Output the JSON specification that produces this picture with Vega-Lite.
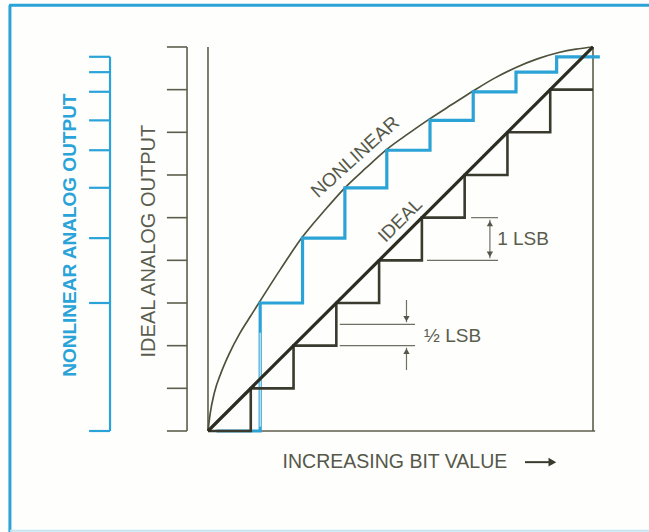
{
  "$schema": "https://vega.github.io/schema/vega-lite/v6.json",
  "width": 649,
  "height": 532,
  "autosize": "none",
  "padding": 0,
  "background": "#fefefc",
  "config": {"view": {"stroke": null}, "text": {"font": "Liberation Sans"}},
  "datasets": {
    "frame": [
      {"x": -4.65, "y": 9.98, "x2": 10.31, "y2": 9.98},
      {"x": -4.63, "y": 9.98, "x2": -4.63, "y2": -2.37}
    ],
    "frameb": [
      {"x": -4.63, "y": -2.34, "x2": 10.31, "y2": -2.34}
    ],
    "axes": [
      {"x": 0, "y": 0, "x2": 0, "y2": 9},
      {"x": 0, "y": 0, "x2": 9.05, "y2": 0},
      {"x": 9, "y": 0, "x2": 9, "y2": 9},
      {"x": -0.49, "y": 0, "x2": -0.49, "y2": 9},
      {"x": -0.96, "y": 0, "x2": -0.49, "y2": 0},
      {"x": -0.96, "y": 1, "x2": -0.49, "y2": 1},
      {"x": -0.96, "y": 2, "x2": -0.49, "y2": 2},
      {"x": -0.96, "y": 3, "x2": -0.49, "y2": 3},
      {"x": -0.96, "y": 4, "x2": -0.49, "y2": 4},
      {"x": -0.96, "y": 5, "x2": -0.49, "y2": 5},
      {"x": -0.96, "y": 6, "x2": -0.49, "y2": 6},
      {"x": -0.96, "y": 7, "x2": -0.49, "y2": 7},
      {"x": -0.96, "y": 8, "x2": -0.49, "y2": 8},
      {"x": -0.96, "y": 9, "x2": -0.49, "y2": 9}
    ],
    "blueaxis": [
      {"x": -2.29, "y": 0, "x2": -2.29, "y2": 8.77},
      {"x": -2.78, "y": 0, "x2": -2.29, "y2": 0},
      {"x": -2.78, "y": 3.0, "x2": -2.29, "y2": 3.0},
      {"x": -2.78, "y": 4.52, "x2": -2.29, "y2": 4.52},
      {"x": -2.78, "y": 5.7, "x2": -2.29, "y2": 5.7},
      {"x": -2.78, "y": 6.58, "x2": -2.29, "y2": 6.58},
      {"x": -2.78, "y": 7.28, "x2": -2.29, "y2": 7.28},
      {"x": -2.78, "y": 7.95, "x2": -2.29, "y2": 7.95},
      {"x": -2.78, "y": 8.41, "x2": -2.29, "y2": 8.41},
      {"x": -2.78, "y": 8.77, "x2": -2.29, "y2": 8.77}
    ],
    "ideal": [
      {"i": 0, "x": 0, "y": 0}, {"i": 1, "x": 1, "y": 0}, {"i": 2, "x": 1, "y": 1},
      {"i": 3, "x": 2, "y": 1}, {"i": 4, "x": 2, "y": 2}, {"i": 5, "x": 3, "y": 2},
      {"i": 6, "x": 3, "y": 3}, {"i": 7, "x": 4, "y": 3}, {"i": 8, "x": 4, "y": 4},
      {"i": 9, "x": 5, "y": 4}, {"i": 10, "x": 5, "y": 5}, {"i": 11, "x": 6, "y": 5},
      {"i": 12, "x": 6, "y": 6}, {"i": 13, "x": 7, "y": 6}, {"i": 14, "x": 7, "y": 7},
      {"i": 15, "x": 8, "y": 7}, {"i": 16, "x": 8, "y": 8}, {"i": 17, "x": 9, "y": 8}
    ],
    "blue": [
      {"i": 0, "x": 0.2, "y": 0}, {"i": 1, "x": 1.22, "y": 0}, {"i": 2, "x": 1.22, "y": 3.0},
      {"i": 3, "x": 2.21, "y": 3.0}, {"i": 4, "x": 2.21, "y": 4.52}, {"i": 5, "x": 3.2, "y": 4.52},
      {"i": 6, "x": 3.2, "y": 5.7}, {"i": 7, "x": 4.18, "y": 5.7}, {"i": 8, "x": 4.18, "y": 6.58},
      {"i": 9, "x": 5.19, "y": 6.58}, {"i": 10, "x": 5.19, "y": 7.28}, {"i": 11, "x": 6.2, "y": 7.28},
      {"i": 12, "x": 6.2, "y": 7.95}, {"i": 13, "x": 7.2, "y": 7.95}, {"i": 14, "x": 7.2, "y": 8.41},
      {"i": 15, "x": 8.15, "y": 8.41}, {"i": 16, "x": 8.15, "y": 8.77}, {"i": 17, "x": 9.16, "y": 8.77}
    ],
    "curve": [
      {"i": 0, "x": 0, "y": 0}, {"i": 1, "x": 0.05, "y": 0.4}, {"i": 2, "x": 0.15, "y": 0.9},
      {"i": 3, "x": 0.3, "y": 1.35}, {"i": 4, "x": 0.5, "y": 1.82}, {"i": 5, "x": 0.75, "y": 2.3},
      {"i": 6, "x": 1.0, "y": 2.7}, {"i": 7, "x": 1.22, "y": 3.05}, {"i": 8, "x": 1.7, "y": 3.8},
      {"i": 9, "x": 2.21, "y": 4.55}, {"i": 10, "x": 2.7, "y": 5.14}, {"i": 11, "x": 3.2, "y": 5.7},
      {"i": 12, "x": 3.7, "y": 6.17}, {"i": 13, "x": 4.18, "y": 6.6}, {"i": 14, "x": 4.7, "y": 6.98},
      {"i": 15, "x": 5.19, "y": 7.32}, {"i": 16, "x": 5.7, "y": 7.65}, {"i": 17, "x": 6.2, "y": 7.97},
      {"i": 18, "x": 6.7, "y": 8.27}, {"i": 19, "x": 7.2, "y": 8.52}, {"i": 20, "x": 7.7, "y": 8.72},
      {"i": 21, "x": 8.2, "y": 8.87}, {"i": 22, "x": 8.6, "y": 8.95}, {"i": 23, "x": 9, "y": 9}
    ],
    "guides": [
      {"x": 6.15, "y": 5, "x2": 6.78, "y2": 5},
      {"x": 5.12, "y": 4, "x2": 6.78, "y2": 4},
      {"x": 6.59, "y": 4.05, "x2": 6.59, "y2": 4.95},
      {"x": 3.08, "y": 2.5, "x2": 4.84, "y2": 2.5},
      {"x": 3.08, "y": 2.0, "x2": 4.84, "y2": 2.0},
      {"x": 4.64, "y": 3.07, "x2": 4.64, "y2": 2.55},
      {"x": 4.64, "y": 1.43, "x2": 4.64, "y2": 1.95}
    ],
    "arrowsup": [
      {"x": 6.59, "y": 4.86},
      {"x": 4.64, "y": 1.87}
    ],
    "arrowsdown": [
      {"x": 6.59, "y": 4.14},
      {"x": 4.64, "y": 2.63}
    ]
  },
  "encoding": {
    "x": {"field": "x", "type": "quantitative", "scale": {"domain": [-4.862, 10.309], "nice": false, "zero": false}, "axis": null},
    "y": {"field": "y", "type": "quantitative", "scale": {"domain": [-2.367, 10.101], "nice": false, "zero": false}, "axis": null}
  },
  "layer": [
    {"data": {"name": "frame"}, "mark": {"type": "rule", "color": "#2aa3d8", "strokeWidth": 3},
     "encoding": {"x2": {"field": "x2"}, "y2": {"field": "y2"}}},
    {"data": {"name": "frameb"}, "mark": {"type": "rule", "color": "#c4e6f2", "strokeWidth": 2},
     "encoding": {"x2": {"field": "x2"}, "y2": {"field": "y2"}}},
    {"data": {"name": "axes"}, "mark": {"type": "rule", "color": "#5c5e4c", "strokeWidth": 1.6},
     "encoding": {"x2": {"field": "x2"}, "y2": {"field": "y2"}}},
    {"data": {"name": "blueaxis"}, "mark": {"type": "rule", "color": "#2aa3d8", "strokeWidth": 2.2},
     "encoding": {"x2": {"field": "x2"}, "y2": {"field": "y2"}}},
    {"data": {"name": "guides"}, "mark": {"type": "rule", "color": "#6e7064", "strokeWidth": 1.2},
     "encoding": {"x2": {"field": "x2"}, "y2": {"field": "y2"}}},
    {"data": {"name": "arrowsup"}, "mark": {"type": "point", "shape": "triangle-up", "filled": true, "color": "#55574a", "size": 40, "opacity": 1},
     "encoding": {}},
    {"data": {"name": "arrowsdown"}, "mark": {"type": "point", "shape": "triangle-down", "filled": true, "color": "#55574a", "size": 40, "opacity": 1},
     "encoding": {}},
    {"data": {"name": "curve"}, "mark": {"type": "line", "color": "#4e513c", "strokeWidth": 1.7, "interpolate": "monotone"},
     "encoding": {"order": {"field": "i", "type": "quantitative"}}},
    {"data": {"name": "blue"}, "mark": {"type": "line", "color": "#2ba3d6", "strokeWidth": 3.2, "strokeJoin": "miter"},
     "encoding": {"order": {"field": "i", "type": "quantitative"}}},
    {"data": {"values": [{"x": 1.22, "y": 0.1, "x2": 1.22, "y2": 2.3}]}, "mark": {"type": "rule", "color": "#e8f5fa", "strokeWidth": 1.1},
     "encoding": {"x2": {"field": "x2"}, "y2": {"field": "y2"}}},
    {"data": {"name": "ideal"}, "mark": {"type": "line", "color": "#3a3b2e", "strokeWidth": 2.6, "strokeJoin": "miter"},
     "encoding": {"order": {"field": "i", "type": "quantitative"}}},
    {"data": {"values": [{"x": 0, "y": 0, "x2": 9, "y2": 9}]}, "mark": {"type": "rule", "color": "#2c2d22", "strokeWidth": 3.2},
     "encoding": {"x2": {"field": "x2"}, "y2": {"field": "y2"}}},
    {"data": {"values": [{"x": -3.23, "y": 4.59, "label": "NONLINEAR ANALOG OUTPUT"}]},
     "mark": {"type": "text", "angle": 270, "fontSize": 19, "fontWeight": "bold", "color": "#2aa3d8", "align": "center", "baseline": "middle"},
     "encoding": {"text": {"field": "label"}}},
    {"data": {"values": [{"x": -1.38, "y": 4.45, "label": "IDEAL ANALOG OUTPUT"}]},
     "mark": {"type": "text", "angle": 270, "fontSize": 20, "color": "#5a5d4e", "align": "center", "baseline": "middle"},
     "encoding": {"text": {"field": "label"}}},
    {"data": {"values": [{"x": 4.37, "y": -0.73, "label": "INCREASING BIT VALUE"}]},
     "mark": {"type": "text", "fontSize": 19.5, "color": "#55584a", "align": "center", "baseline": "middle"},
     "encoding": {"text": {"field": "label"}}},
    {"data": {"values": [{"x": 7.41, "y": -0.73, "x2": 8.0, "y2": -0.73}]}, "mark": {"type": "rule", "color": "#3a3b2e", "strokeWidth": 2},
     "encoding": {"x2": {"field": "x2"}, "y2": {"field": "y2"}}},
    {"data": {"values": [{"x": 8.05, "y": -0.73}]}, "mark": {"type": "point", "shape": "triangle-right", "filled": true, "color": "#3a3b2e", "size": 80, "opacity": 1},
     "encoding": {}},
    {"data": {"values": [{"x": 3.44, "y": 6.42, "label": "NONLINEAR"}]},
     "mark": {"type": "text", "angle": 318, "fontSize": 19, "color": "#55584a", "align": "center", "baseline": "middle"},
     "encoding": {"text": {"field": "label"}}},
    {"data": {"values": [{"x": 4.49, "y": 4.94, "label": "IDEAL"}]},
     "mark": {"type": "text", "angle": 315, "fontSize": 18.5, "color": "#55584a", "align": "center", "baseline": "middle"},
     "encoding": {"text": {"field": "label"}}},
    {"data": {"values": [{"x": 6.76, "y": 4.5, "label": "1 LSB"}, {"x": 5.05, "y": 2.23, "label": "½ LSB"}]},
     "mark": {"type": "text", "fontSize": 19, "color": "#5a5d4e", "align": "left", "baseline": "middle"},
     "encoding": {"text": {"field": "label"}}}
  ]
}
